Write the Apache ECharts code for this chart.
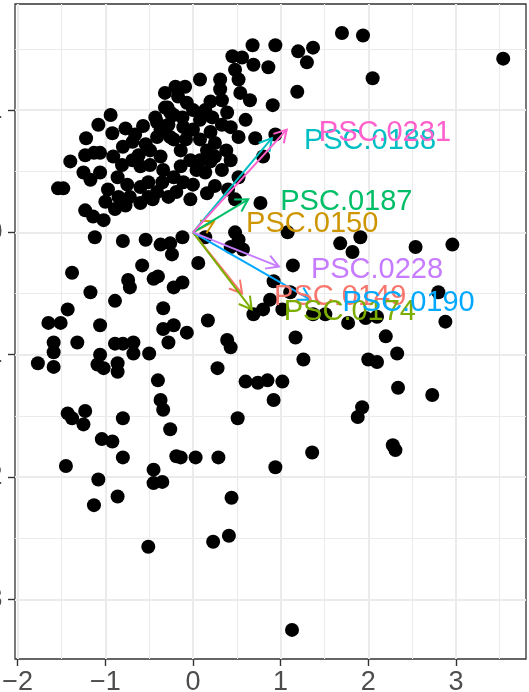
<!DOCTYPE html>
<html><head><meta charset="utf-8">
<script src="https://cdn.jsdelivr.net/npm/echarts@6/dist/echarts.min.js"></script>
<style>html,body{margin:0;padding:0;background:#fff}#c{width:529px;height:692px}</style>
</head><body><div id="c"></div>
<script>
// ---- data (PC scores) ----
const pcX = [1.70,1.94,3.54,0.68,0.94,1.20,1.37,1.30,0.45,0.56,0.69,0.48,0.86,0.52,1.19,0.65,0.91,2.05,0.31,0.31,0.08,0.54,
-0.32,-0.20,-0.09,-0.32,-0.17,-0.07,0.20,0.33,0.39,0.22,0.43,0.52,0.71,0.16,0.00,-0.41,-0.26,-0.26,-0.11,0.00,0.08,0.94,
-0.94,-1.08,-0.92,-1.22,-1.40,-1.23,-1.13,-1.25,-1.17,-1.06,-1.54,-1.48,-1.00,-0.89,-1.23,-1.14,-1.02,-0.77,-0.66,-0.57,-0.43,-0.29,-0.22,-0.91,-0.80,-0.69,-0.60,-0.86,-0.75,-0.72,-0.60,-0.51,-0.51,-0.41,-0.28,-0.49,-0.37,-0.34,-0.22,-0.41,-0.22,
-1.12,-0.80,-0.54,-0.60,-0.46,-0.11,0.00,0.16,0.14,0.25,0.48,0.52,0.77,-0.12,0.14,-1.06,0.40,1.08,0.48,0.80,
0.06,-0.12,0.52,0.43,0.57,1.14,0.92,0.88,0.80,0.69,1.02,1.11,1.37,1.51,1.77,0.17,-0.07,0.39,0.43,1.17,1.26,0.28,0.60,0.74,0.85,1.02,0.92,0.51,1.88,1.93,-0.14,0.03,0.29,0.94,1.36,
1.91,1.82,2.54,2.96,2.80,2.88,1.97,2.10,2.20,2.33,2.00,2.10,2.34,2.73,2.28,2.31,1.68,
0.44,0.23,0.41,1.13,
-1.45,-1.08,-0.86,-1.13,-0.45,-0.45,-0.35,-0.51,-0.80,-0.19,
-0.37,-0.26,-0.24,-0.58,-1.38,-0.74,-0.72,-0.45,-0.40,-0.22,-1.17,-0.89,-0.34,-1.43,-1.65,-1.51,-1.06,-0.34,-0.22,-1.59,-1.32,-0.28,-0.89,-0.80,-0.68,-0.68,-0.50,-1.06,-1.59,-1.77,-1.59,-1.09,-1.02,-0.86,-0.86,-0.40,-0.37,-0.34,-0.26,-1.43,-1.23,-1.38,-1.25,-0.80,-1.04,-0.92,
-0.14,-0.03,-0.08,0.08,0.20,0.04,-0.14,-0.54,-0.69,-0.81,-0.97,-0.85,-0.35,-0.19,-0.03,0.25,0.33,0.38,0.25,0.60,0.14,-0.12,-0.37,-0.62,-0.49,-0.28,0.08,0.20,0.43,0.33,-0.77];
const pcY = [1.63,1.61,1.42,1.53,1.53,1.48,1.51,1.39,1.44,1.43,1.37,1.33,1.35,1.25,1.15,1.08,1.04,1.26,1.25,1.17,1.25,1.14,
1.14,1.19,1.19,1.02,1.11,1.06,1.07,1.08,0.98,0.94,0.86,0.78,0.77,0.67,0.84,0.90,0.98,0.78,0.86,1.00,0.92,0.80,
0.96,0.88,0.81,0.77,0.58,0.63,0.65,0.49,0.43,0.49,0.36,0.36,0.25,0.19,0.18,0.13,0.10,0.85,0.80,0.87,0.94,1.02,0.96,0.62,0.70,0.59,0.54,0.45,0.39,0.29,0.37,0.41,0.29,0.33,0.29,0.67,0.62,0.51,0.45,0.78,0.76,
-0.04,-0.07,-0.06,0.24,0.27,0.41,0.39,0.32,0.49,0.62,0.27,0.45,0.24,-0.04,-0.04,0.65,0.35,0.00,0.00,0.62,
-0.25,-0.41,-0.06,-0.12,-0.14,-0.27,-0.40,-0.55,-0.63,-0.67,-0.63,-0.49,-0.67,-0.67,-0.74,-0.72,-0.82,-0.88,-0.94,-0.86,-1.04,-1.11,-1.22,-1.23,-1.21,-1.22,-1.37,-1.52,-1.51,-1.43,-1.84,-1.84,-1.84,-1.92,-1.80,
-0.04,-0.16,-0.12,-0.10,-0.49,-0.73,-0.70,-0.69,-0.85,-0.99,-1.04,-1.06,-1.27,-1.33,-1.74,-1.78,-0.09,
-2.17,-2.53,-2.48,-3.25,
-1.91,-2.02,-2.16,-2.23,-1.94,-2.05,-2.04,-2.57,-1.84,-1.83,
-0.10,-0.09,-0.18,-0.27,-0.33,-0.39,-0.45,-0.38,-0.36,-0.45,-0.49,-0.56,-0.62,-0.63,-0.74,-0.74,-0.76,-0.79,-0.76,-0.90,-0.90,-0.90,-0.91,-0.91,-0.90,-0.99,-0.99,-1.00,-0.98,-1.07,-1.10,-1.08,-1.11,-1.07,-1.14,-1.21,-1.37,-1.45,-1.61,-1.48,-1.46,-1.52,-1.57,-1.52,-1.69,-1.71,
0.67,0.59,0.76,0.76,0.82,0.51,0.54,0.72,0.74,0.55,0.35,0.29,0.41,0.33,0.27,0.38,0.51,0.67,0.73,0.92,1.00,0.94,0.84,0.63,0.55,0.88,0.59,0.58,0.59,0.88,0.22];

// ---- loadings (arrows) ----
const loadNames = ['PSC.0149','PSC.0150','PSC.0174','PSC.0187','PSC.0188','PSC.0190','PSC.0228','PSC.0231'];
const loadX = [0.56, 0.24, 0.67, 0.63, 0.90, 1.34, 0.98, 1.07];
const loadY = [-0.50, 0.09, -0.63, 0.27, 0.77, -0.55, -0.28, 0.84];
const labelNudgeX = 1.12; // label centre shift, x units

// ---- axis ticks ----
const xTicks = [-2,-1,0,1,2,3];
const xMinor = [-1.5,-0.5,0.5,1.5,2.5,3.5];
const yTicks = [-3,-2,-1,0,1];
const yMinor = [-2.5,-1.5,-0.5,0.5,1.5];
const xRange = [-2.031, 3.80];
const yRange = [-3.488, 1.867];

const palette = ['#F8766D','#CD9600','#7CAE00','#00BE67','#00BFC4','#00A9FF','#C77CFF','#FF61CC'];
const FONT = '"Liberation Sans", Arial, sans-serif';
const fmt = v => (v < 0 ? '\u2212' : '') + Math.abs(v);

const points = pcX.map((x, i) => [x, pcY[i]]);
const loads = loadX.map((x, i) => [x, loadY[i], i]);

const majorSplit = {show: true, lineStyle: {color: '#EBEBEB', width: 2}};
const minorSplit = {show: true, lineStyle: {color: '#EBEBEB', width: 1.1}};
const tickStyle = {color: '#333333', width: 1.4};
const noLine = {show: false, onZero: false};

const chart = echarts.init(document.getElementById('c'));
chart.setOption({
  animation: false,
  backgroundColor: '#ffffff',
  grid: {left: 15, right: 3, top: 4, bottom: 33, show: true, borderColor: '#333333', borderWidth: 1.3,
         backgroundColor: 'transparent', containLabel: false, outerBoundsMode: 'none'},
  xAxis: [
    {type: 'value', min: xRange[0], max: xRange[1], position: 'bottom', axisLine: noLine,
     axisTick: {show: true, length: 7, lineStyle: tickStyle, customValues: xTicks},
     axisLabel: {customValues: xTicks, formatter: fmt, color: '#4D4D4D', fontSize: 27, fontFamily: FONT, margin: 10},
     splitLine: majorSplit},
    {type: 'value', min: xRange[0], max: xRange[1], position: 'bottom', axisLine: noLine,
     axisTick: {show: false, customValues: xMinor},
     axisLabel: {show: false, customValues: xMinor},
     splitLine: minorSplit}
  ],
  yAxis: [
    {type: 'value', min: yRange[0], max: yRange[1], position: 'left', axisLine: noLine,
     axisTick: {show: true, length: 7, lineStyle: tickStyle, customValues: yTicks},
     axisLabel: {customValues: yTicks, formatter: fmt, color: '#4D4D4D', fontSize: 27, fontFamily: FONT, margin: 12.5},
     splitLine: majorSplit},
    {type: 'value', min: yRange[0], max: yRange[1], position: 'left', axisLine: noLine,
     axisTick: {show: false, customValues: yMinor},
     axisLabel: {show: false, customValues: yMinor},
     splitLine: minorSplit}
  ],
  series: [
    {type: 'scatter', data: points, symbolSize: 14, itemStyle: {color: '#000000', opacity: 1}, z: 2, silent: true},
    {type: 'custom', data: loads, z: 3, silent: true,
     renderItem: function (params, api) {
       const c = palette[api.value(2)];
       const o = api.coord([0, 0]);
       const t = api.coord([api.value(0), api.value(1)]);
       const ang = Math.atan2(t[1] - o[1], t[0] - o[0]);
       const L = 14, a = Math.PI / 6;
       const p1 = [t[0] - L * Math.cos(ang - a), t[1] - L * Math.sin(ang - a)];
       const p2 = [t[0] - L * Math.cos(ang + a), t[1] - L * Math.sin(ang + a)];
       return {type: 'group', children: [
         {type: 'line', shape: {x1: o[0], y1: o[1], x2: t[0], y2: t[1]}, style: {stroke: c, lineWidth: 2}},
         {type: 'polyline', shape: {points: [p1, t, p2]}, style: {stroke: c, lineWidth: 2, fill: null, lineJoin: 'miter'}}
       ]};
     }},
    {type: 'custom', data: loads, z: 4, silent: true,
     renderItem: function (params, api) {
       const i = api.value(2);
       const p = api.coord([api.value(0) + labelNudgeX, api.value(1)]);
       return {type: 'text', x: p[0], y: p[1] + 3,
         style: {text: loadNames[i], fill: palette[i], fontSize: 29, fontFamily: FONT, align: 'center', verticalAlign: 'middle'}};
     }}
  ]
});
</script></body></html>
